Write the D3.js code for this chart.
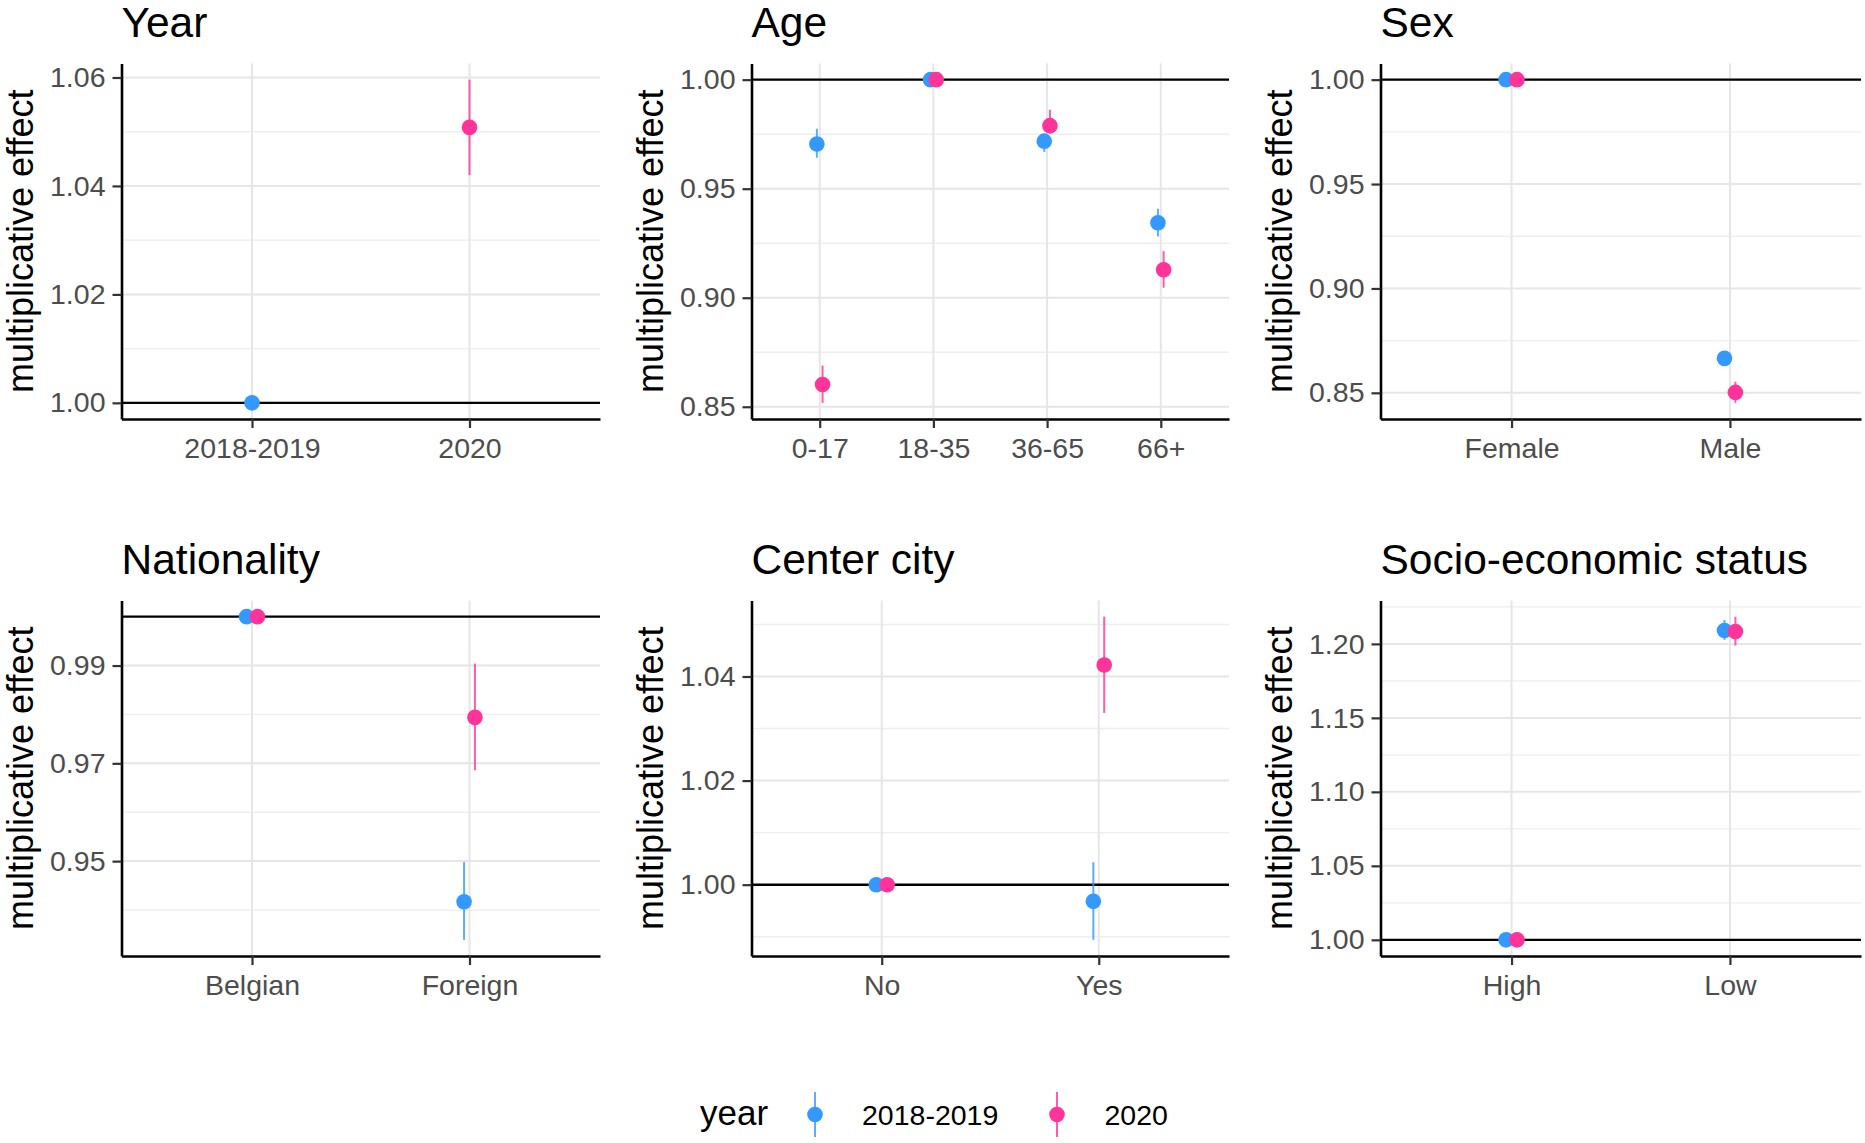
<!DOCTYPE html>
<html>
<head>
<meta charset="utf-8">
<script src="https://cdn.jsdelivr.net/npm/d3@7"></script>
<style>
  html, body { margin: 0; padding: 0; background: #ffffff; }
  svg { display: block; }
</style>
</head>
<body>
<svg id="chart" width="1865" height="1143"></svg>
<script>
// ---------------- DATA ----------------
const seriesNames = ["2018-2019", "2020"];
const seriesColors = ["#3399FF", "#FF3399"];

const panelTitles = ["Year", "Age", "Sex", "Nationality", "Center city", "Socio-economic status"];
const yAxisTitle = "multiplicative effect";
const legendTitle = "year";

// Year
const yearCategories = ["2018-2019", "2020"];
const year2018Est = [1.0, null];
const year2018Lo  = [1.0, null];
const year2018Hi  = [1.0, null];
const year2020Est = [null, 1.0508];
const year2020Lo  = [null, 1.0420];
const year2020Hi  = [null, 1.0596];
const yearMajorTicks = [1.00, 1.02, 1.04, 1.06];
const yearMinorTicks = [1.01, 1.03, 1.05];

// Age
const ageCategories = ["0-17", "18-35", "36-65", "66+"];
const age2018Est = [0.9705, 1.0, 0.9718, 0.9344];
const age2018Lo  = [0.9642, 1.0, 0.9668, 0.9281];
const age2018Hi  = [0.9775, 1.0, 0.9748, 0.9408];
const age2020Est = [0.8602, 1.0, 0.9789, 0.9128];
const age2020Lo  = [0.8518, 1.0, 0.9752, 0.9046];
const age2020Hi  = [0.8689, 1.0, 0.9862, 0.9214];
const ageMajorTicks = [0.85, 0.90, 0.95, 1.00];
const ageMinorTicks = [0.875, 0.925, 0.975];

// Sex
const sexCategories = ["Female", "Male"];
const sex2018Est = [1.0, 0.8665];
const sex2018Lo  = [1.0, 0.8650];
const sex2018Hi  = [1.0, 0.8680];
const sex2020Est = [1.0, 0.8502];
const sex2020Lo  = [1.0, 0.8452];
const sex2020Hi  = [1.0, 0.8553];
const sexMajorTicks = [0.85, 0.90, 0.95, 1.00];
const sexMinorTicks = [0.875, 0.925, 0.975];

// Nationality
const natCategories = ["Belgian", "Foreign"];
const nat2018Est = [1.0, 0.9417];
const nat2018Lo  = [1.0, 0.9339];
const nat2018Hi  = [1.0, 0.9498];
const nat2020Est = [1.0, 0.9794];
const nat2020Lo  = [1.0, 0.9686];
const nat2020Hi  = [1.0, 0.9904];
const natMajorTicks = [0.95, 0.97, 0.99];
const natMinorTicks = [0.94, 0.96, 0.98, 1.00];

// Center city
const cityCategories = ["No", "Yes"];
const city2018Est = [1.0, 0.9968];
const city2018Lo  = [1.0, 0.9894];
const city2018Hi  = [1.0, 1.0043];
const city2020Est = [1.0, 1.0422];
const city2020Lo  = [1.0, 1.0330];
const city2020Hi  = [1.0, 1.0515];
const cityMajorTicks = [1.00, 1.02, 1.04];
const cityMinorTicks = [0.99, 1.01, 1.03, 1.05];

// Socio-economic status
const sesCategories = ["High", "Low"];
const ses2018Est = [1.0, 1.2090];
const ses2018Lo  = [1.0, 1.2027];
const ses2018Hi  = [1.0, 1.2162];
const ses2020Est = [1.0, 1.2083];
const ses2020Lo  = [1.0, 1.1989];
const ses2020Hi  = [1.0, 1.2184];
const sesMajorTicks = [1.00, 1.05, 1.10, 1.15, 1.20];
const sesMinorTicks = [1.025, 1.075, 1.125, 1.175, 1.225];

const referenceValue = 1.0;

// ---------------- BUILD PANELS ----------------
const panelData = [
  { cats: yearCategories, s: [[year2018Est, year2018Lo, year2018Hi], [year2020Est, year2020Lo, year2020Hi]], major: yearMajorTicks, minor: yearMinorTicks },
  { cats: ageCategories,  s: [[age2018Est, age2018Lo, age2018Hi], [age2020Est, age2020Lo, age2020Hi]], major: ageMajorTicks, minor: ageMinorTicks },
  { cats: sexCategories,  s: [[sex2018Est, sex2018Lo, sex2018Hi], [sex2020Est, sex2020Lo, sex2020Hi]], major: sexMajorTicks, minor: sexMinorTicks },
  { cats: natCategories,  s: [[nat2018Est, nat2018Lo, nat2018Hi], [nat2020Est, nat2020Lo, nat2020Hi]], major: natMajorTicks, minor: natMinorTicks },
  { cats: cityCategories, s: [[city2018Est, city2018Lo, city2018Hi], [city2020Est, city2020Lo, city2020Hi]], major: cityMajorTicks, minor: cityMinorTicks },
  { cats: sesCategories,  s: [[ses2018Est, ses2018Lo, ses2018Hi], [ses2020Est, ses2020Lo, ses2020Hi]], major: sesMajorTicks, minor: sesMinorTicks }
];

// ---------------- LAYOUT ----------------
const FONT = "'Liberation Sans', Arial, Helvetica, sans-serif";
const colLefts = [121.5, 751.5, 1380.5];
const colWidths = [478.5, 477.5, 480.5];
const rowTops = [63.5, 600.5];
const plotH = 355.5;
const pointR = 7.8;
const fmt = d3.format(".2f");

const svg = d3.select("#chart");

panelData.forEach((p, i) => {
  const col = i % 3, row = Math.floor(i / 3);
  const left = colLefts[col], top = rowTops[row], w = colWidths[col], h = plotH;
  const g = svg.append("g").attr("transform", `translate(${left},${top})`);

  // y domain from data with 5% expansion (like ggplot)
  const vals = [];
  p.s.forEach(ser => { ser[1].forEach(v => { if (v != null) vals.push(v); }); ser[2].forEach(v => { if (v != null) vals.push(v); }); });
  const [mn, mx] = d3.extent(vals);
  const pad = (mx - mn) * 0.05;
  const y = d3.scaleLinear().domain([mn - pad, mx + pad]).range([h, 0]);
  const x = d3.scalePoint().domain(p.cats).range([0, w]).padding(0.6);
  const step = x.step();

  // minor grid
  g.append("g").selectAll("line").data(p.minor.filter(v => v >= y.domain()[0] && v <= y.domain()[1])).join("line")
    .attr("x1", 0).attr("x2", w).attr("y1", d => y(d)).attr("y2", d => y(d))
    .attr("stroke", "#EEEEEE").attr("stroke-width", 1.4);
  // major grid (horizontal)
  g.append("g").selectAll("line").data(p.major).join("line")
    .attr("x1", 0).attr("x2", w).attr("y1", d => y(d)).attr("y2", d => y(d))
    .attr("stroke", "#E6E6E6").attr("stroke-width", 2);
  // major grid (vertical)
  g.append("g").selectAll("line").data(p.cats).join("line")
    .attr("x1", d => x(d)).attr("x2", d => x(d)).attr("y1", 0).attr("y2", h)
    .attr("stroke", "#E6E6E6").attr("stroke-width", 2);

  // reference line at 1
  g.append("line").attr("x1", 0).attr("x2", w).attr("y1", y(referenceValue)).attr("y2", y(referenceValue))
    .attr("stroke", "#000").attr("stroke-width", 2.4);

  // points with ranges
  const pts = [];
  p.cats.forEach((c, ci) => {
    const present = p.s.map((ser, si) => ser[0][ci] != null ? si : -1).filter(si => si >= 0);
    present.forEach((si, k) => {
      const n = present.length;
      const off = n > 1 ? (k - (n - 1) / 2) * 0.05 * step : 0;
      pts.push({ cx: x(c) + off, est: p.s[si][0][ci], lo: p.s[si][1][ci], hi: p.s[si][2][ci], si });
    });
  });
  [0, 1].forEach(si => {
    const sp = pts.filter(d => d.si === si);
    const sg = g.append("g");
    sg.selectAll("line").data(sp).join("line")
      .attr("x1", d => d.cx).attr("x2", d => d.cx).attr("y1", d => y(d.lo)).attr("y2", d => y(d.hi))
      .attr("stroke", seriesColors[si]).attr("stroke-width", 2).attr("stroke-opacity", 0.8);
    sg.selectAll("circle").data(sp).join("circle")
      .attr("cx", d => d.cx).attr("cy", d => y(d.est)).attr("r", pointR)
      .attr("fill", seriesColors[si]);
  });

  // axes
  const ya = g.append("g").call(d3.axisLeft(y).tickValues(p.major).tickFormat(fmt).tickSize(9).tickSizeOuter(0).tickPadding(7));
  const xa = g.append("g").attr("transform", `translate(0,${h})`)
    .call(d3.axisBottom(x).tickSize(9).tickSizeOuter(0).tickPadding(10));
  [ya, xa].forEach(a => {
    a.attr("font-family", FONT).attr("font-size", 28.5);
    a.select(".domain").attr("stroke", "#000").attr("stroke-width", 2.6);
    a.selectAll(".tick line").attr("stroke", "#333").attr("stroke-width", 2.2);
    a.selectAll(".tick text").attr("fill", "#4D4D4D");
  });

  // title
  svg.append("text").attr("x", left).attr("y", top - 27)
    .attr("font-family", FONT).attr("font-size", 42.5).attr("fill", "#000")
    .text(panelTitles[i]);
  // y axis title
  svg.append("text")
    .attr("transform", `translate(${left - 89},${top + h / 2}) rotate(-90)`)
    .attr("text-anchor", "middle")
    .attr("font-family", FONT).attr("font-size", 36).attr("fill", "#000")
    .text(yAxisTitle);
});

// ---------------- LEGEND ----------------
const lg = svg.append("g");
lg.append("text").attr("x", 700).attr("y", 1124.5)
  .attr("font-family", FONT).attr("font-size", 35).attr("fill", "#000").text(legendTitle);
const keyX = [815, 1057];
const labX = [862, 1104.5];
seriesNames.forEach((name, si) => {
  lg.append("line").attr("x1", keyX[si]).attr("x2", keyX[si]).attr("y1", 1092).attr("y2", 1137)
    .attr("stroke", seriesColors[si]).attr("stroke-width", 2).attr("stroke-opacity", 0.8);
  lg.append("circle").attr("cx", keyX[si]).attr("cy", 1114.5).attr("r", pointR).attr("fill", seriesColors[si]);
  lg.append("text").attr("x", labX[si]).attr("y", 1125)
    .attr("font-family", FONT).attr("font-size", 28.5).attr("fill", "#000").text(name);
});
</script>
</body>
</html>
